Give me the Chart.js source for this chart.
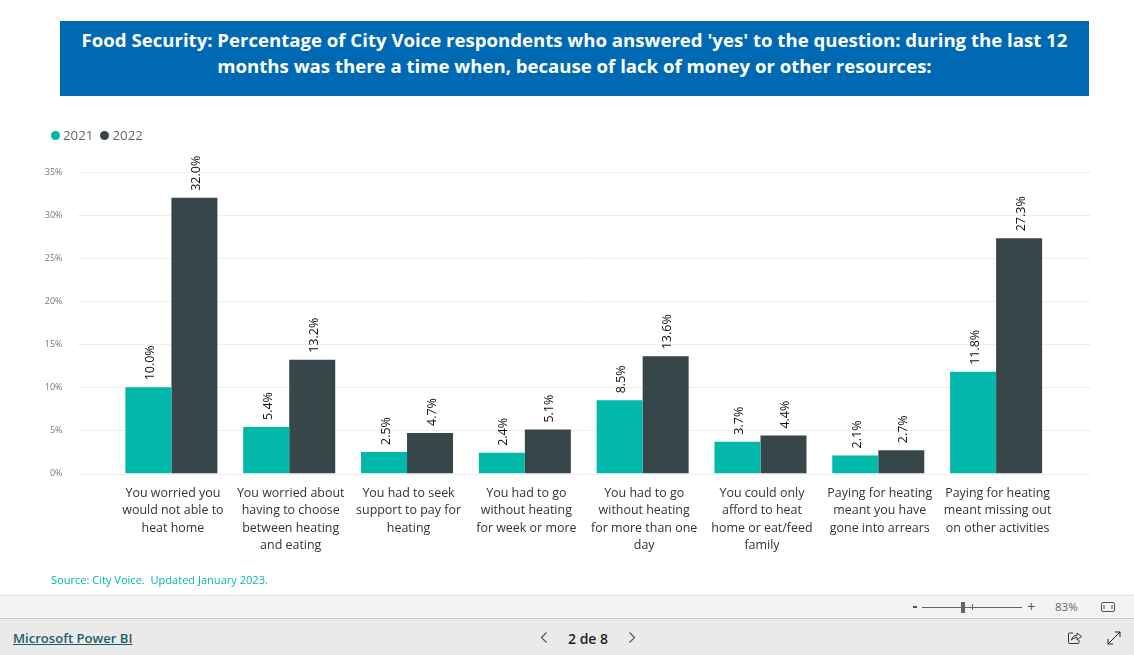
<!DOCTYPE html>
<html>
<head>
<meta charset="utf-8">
<title>Food Security</title>
<script src="https://cdn.jsdelivr.net/npm/chart.js@4"></script>
<style>
  html, body { margin: 0; padding: 0; width: 1134px; height: 655px; overflow: hidden; background: #fff; font-family: "Open Sans", sans-serif; }
  #chart { position: absolute; left: 0; top: 0; }
  #banner { position: absolute; left: 60px; top: 21px; width: 1029px; height: 75px; background: #0069b4; color: #fff; font-weight: 700; font-size: 18.6px; line-height: 26px; text-align: center; box-sizing: border-box; padding-top: 6px; }
  #legend { position: absolute; left: 51px; top: 126px; font-size: 13.3px; line-height: 18px; color: #666; white-space: nowrap; }
  #legend i { display: inline-block; width: 9px; height: 9px; border-radius: 50%; margin-right: 3px; }
  #legend span { margin-right: 7px; }
  #source { position: absolute; left: 51px; top: 572px; font-size: 11.05px; color: #01b8aa; }
  #zoombar { position: absolute; left: 0; top: 595px; width: 1134px; height: 24px; background: #f3f3f3; border-top: 1px solid #e0e0e0; border-bottom: 1px solid #c8c8c8; box-sizing: border-box; }
  #footer { position: absolute; left: 0; top: 619px; width: 1134px; height: 36px; background: #eaeaea; }
  .abs { position: absolute; }
  #pbi { left: 13px; top: 10px; font-size: 13.1px; font-weight: 600; color: #1f5f63; text-decoration: underline; }
  #pager { left: 568px; top: 10px; font-size: 14px; font-weight: 600; color: #222; }
</style>
</head>
<body>
<canvas id="chart" width="1134" height="590"></canvas>
<div id="banner">Food Security: Percentage of City Voice respondents who answered 'yes' to the question: during the last 12<br>months was there a time when, because of lack of money or other resources:</div>
<div id="legend"></div>
<div id="source">Source: City Voice.&nbsp; Updated January 2023.</div>
<div id="zoombar">
  <div class="abs" style="left:913px;top:10px;width:4px;height:2px;background:#555"></div>
  <div class="abs" style="left:922px;top:11px;width:100px;height:1px;background:#666"></div>
  <div class="abs" style="left:961px;top:6px;width:4px;height:11px;background:#666"></div>
  <div class="abs" style="left:972px;top:8px;width:1px;height:6px;background:#666"></div>
  <div class="abs" style="left:1027px;top:3px;font-size:15px;line-height:15px;color:#555">+</div>
  <div class="abs" style="left:1055px;top:3px;font-size:11.5px;line-height:15px;color:#666">83%</div>
  <svg class="abs" style="left:1100px;top:5px" width="16" height="13"><rect x="1.5" y="1.5" width="13" height="9" rx="1.500" fill="none" stroke="#555"/><path d="M4 4v4M12 4v4" stroke="#555"/></svg>
</div>
<div id="footer">
  <div class="abs" id="pbi">Microsoft Power BI</div>
  <svg class="abs" style="left:540px;top:12px" width="8" height="13"><path d="M6.500 1.500L1.500 6.500L6.500 11.500" fill="none" stroke="#3a5a70" stroke-width="1.200"/></svg>
  <div class="abs" id="pager">2 de 8</div>
  <svg class="abs" style="left:628px;top:12px" width="8" height="13"><path d="M1.500 1.500L6.500 6.500L1.500 11.500" fill="none" stroke="#3a5a70" stroke-width="1.200"/></svg>
  <svg class="abs" style="left:1067px;top:11px" width="16" height="15"><path d="M6 3H2.500A1 1 0 0 0 1.500 4V12.500A1 1 0 0 0 2.500 13.500H11A1 1 0 0 0 12 12.500V10" fill="none" stroke="#333"/><path d="M4.500 10C5 7 7 5.500 10 5.500V3L14.500 6.500L10 10V7.500C8 7.500 6 8.500 4.500 10Z" fill="none" stroke="#333"/></svg>
  <svg class="abs" style="left:1107px;top:12px" width="14" height="14"><path d="M1 13L13 1M8 1H13V6M1 8V13H6" fill="none" stroke="#222"/></svg>
</div>
<script>
const categories = [
  ['You worried you', 'would not able to', 'heat home'],
  ['You worried about', 'having to choose', 'between heating', 'and eating'],
  ['You had to seek', 'support to pay for', 'heating'],
  ['You had to go', 'without heating', 'for week or more'],
  ['You had to go', 'without heating', 'for more than one', 'day'],
  ['You could only', 'afford to heat', 'home or eat/feed', 'family'],
  ['Paying for heating', 'meant you have', 'gone into arrears'],
  ['Paying for heating', 'meant missing out', 'on other activities']
];
const values2021 = [10.0, 5.4, 2.5, 2.4, 8.5, 3.7, 2.1, 11.8];
const values2022 = [32.0, 13.2, 4.7, 5.1, 13.6, 4.4, 2.7, 27.3];
const tealColor = '#01B8AA';
const darkColor = '#374649';
const gridColor = '#eeeeee';
const fontName = '"Open Sans", sans-serif';

// grid runs wider than the bars, past both ends of the category band
const wideGrid = {
  id: 'wideGrid',
  beforeDatasetsDraw(chart) {
    const ctx = chart.ctx;
    const y = chart.scales.y;
    ctx.save();
    ctx.strokeStyle = gridColor;
    ctx.lineWidth = 1;
    y.ticks.forEach((t, i) => {
      const py = Math.round(y.getPixelForTick(i)) + 0.5;
      ctx.beginPath();
      ctx.moveTo(78, py);
      ctx.lineTo(1091, py);
      ctx.stroke();
    });
    ctx.restore();
  }
};

// rotated value labels above each bar
const barLabels = {
  id: 'barLabels',
  afterDatasetsDraw(chart) {
    const ctx = chart.ctx;
    chart.data.datasets.forEach((ds, d) => {
      chart.getDatasetMeta(d).data.forEach((bar, i) => {
        ctx.save();
        ctx.translate(bar.x + 2, bar.y - 7);
        ctx.rotate(-Math.PI / 2);
        ctx.font = '12.5px ' + fontName;
        ctx.fillStyle = '#111';
        ctx.textAlign = 'left';
        ctx.textBaseline = 'middle';
        ctx.fillText(ds.data[i].toFixed(1) + '%', 0, 0);
        ctx.restore();
      });
    });
  }
};

const chart = new Chart(document.getElementById('chart').getContext('2d'), {
  type: 'bar',
  data: {
    labels: categories,
    datasets: [
      { label: '2021', data: values2021, backgroundColor: tealColor },
      { label: '2022', data: values2022, backgroundColor: darkColor }
    ]
  },
  options: {
    responsive: false,
    animation: false,
    layout: { padding: { top: 172, right: 79, left: 0, bottom: 0 } },
    plugins: { legend: { display: false }, tooltip: { enabled: false } },
    datasets: { bar: { barPercentage: 1, categoryPercentage: 0.781 } },
    scales: {
      x: {
        grid: { display: false },
        border: { display: false },
        afterFit(axis) { axis.height = 116.5; },
        ticks: { color: '#333', font: { family: fontName, size: 12.45, lineHeight: 1.4 }, padding: 3, labelOffset: 1.5, maxRotation: 0, autoSkip: false }
      },
      y: {
        min: 0,
        max: 35,
        grid: { display: false },
        border: { display: false },
        afterFit(axis) { axis.width = 112.5; },
        ticks: { stepSize: 5, color: '#777', font: { family: fontName, size: 9 }, padding: 42, callback: v => v + '%' }
      }
    }
  },
  plugins: [wideGrid, barLabels]
});

document.getElementById('legend').innerHTML = chart.data.datasets.map(ds =>
  '<i style="background:' + ds.backgroundColor + '"></i><span>' + ds.label + '</span>').join('');
</script>
</body>
</html>
